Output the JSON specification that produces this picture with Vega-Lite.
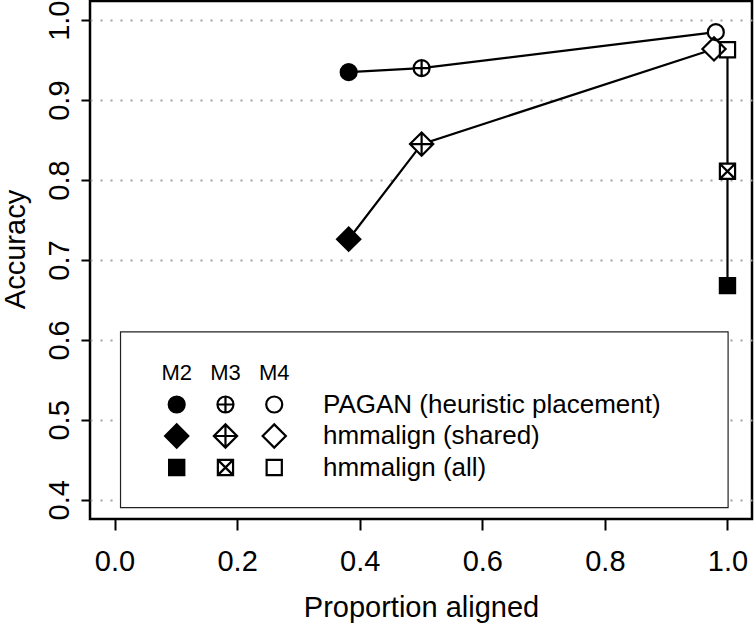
{
  "$schema": "https://vega.github.io/schema/vega-lite/v6.json",
  "width": 662,
  "height": 518,
  "autosize": "none",
  "padding": {"left": 90, "top": 1, "right": 2, "bottom": 105},
  "background": "white",
  "config": {
    "font": "Liberation Sans",
    "view": {"stroke": "black", "strokeWidth": 2.5},
    "axis": {
      "labelFont": "Liberation Sans", "labelFontSize": 29, "labelColor": "black",
      "titleFont": "Liberation Sans", "titleFontSize": 29, "titleFontWeight": "normal", "titleColor": "black",
      "tickColor": "black", "tickWidth": 2, "domain": false, "labelFlush": false, "labelOverlap": false
    }
  },
  "datasets": {
    "points": [
      {"method": "PAGAN (heuristic placement)", "model": "M2", "aligned": 0.382, "accuracy": 0.935},
      {"method": "PAGAN (heuristic placement)", "model": "M3", "aligned": 0.501, "accuracy": 0.940},
      {"method": "PAGAN (heuristic placement)", "model": "M4", "aligned": 0.981, "accuracy": 0.985},
      {"method": "hmmalign (shared)", "model": "M2", "aligned": 0.382, "accuracy": 0.726},
      {"method": "hmmalign (shared)", "model": "M3", "aligned": 0.501, "accuracy": 0.845},
      {"method": "hmmalign (shared)", "model": "M4", "aligned": 0.978, "accuracy": 0.964},
      {"method": "hmmalign (all)", "model": "M2", "aligned": 1.0, "accuracy": 0.668},
      {"method": "hmmalign (all)", "model": "M3", "aligned": 1.0, "accuracy": 0.811},
      {"method": "hmmalign (all)", "model": "M4", "aligned": 1.0, "accuracy": 0.963}
    ],
    "box": [
      {"x0": 0.0098, "x1": 1.001, "y0": 0.3903, "y1": 0.6102}
    ],
    "headers": [
      {"col": "M2", "row": "header"},
      {"col": "M3", "row": "header"},
      {"col": "M4", "row": "header"}
    ],
    "labels": [
      {"col": "label", "row": "PAGAN (heuristic placement)"},
      {"col": "label", "row": "hmmalign (shared)"},
      {"col": "label", "row": "hmmalign (all)"}
    ]
  },
  "resolve": {"scale": {"x": "independent", "y": "independent"}},
  "layer": [
    {
      "layer": [
        {
          "data": {"name": "points"},
          "mark": {"type": "line", "stroke": "black", "strokeWidth": 2.2},
          "encoding": {
            "x": {
              "field": "aligned", "type": "quantitative", "title": "Proportion aligned",
              "scale": {"domain": [-0.04, 1.04], "nice": false, "zero": false},
              "axis": {
                "title": "Proportion aligned", "values": [0, 0.2, 0.4, 0.6, 0.8, 1.0], "format": ".1f",
                "tickSize": 11, "labelPadding": 40, "labelBaseline": "alphabetic", "labelAlign": "center",
                "titleBaseline": "alphabetic", "titleY": 97, "grid": false
              }
            },
            "y": {
              "field": "accuracy", "type": "quantitative", "title": "Accuracy",
              "scale": {"domain": [0.376, 1.024], "nice": false, "zero": false},
              "axis": {
                "title": "Accuracy", "values": [0.4, 0.5, 0.6, 0.7, 0.8, 0.9, 1.0], "format": ".1f",
                "tickSize": 9, "labelPadding": 13, "labelAngle": -90, "labelAlign": "center", "labelBaseline": "alphabetic",
                "titleAngle": 270, "titleAlign": "center", "titleBaseline": "alphabetic", "titleX": -66, "titleY": 248,
                "grid": true, "gridDash": [2, 8], "gridColor": "#a0a0a0", "gridWidth": 2
              }
            },
            "detail": {"field": "method"},
            "order": {"field": "model"}
          }
        },
        {
          "data": {"name": "points"},
          "transform": [{"calculate": "datum.method + '|' + datum.model", "as": "key"}],
          "mark": {"type": "point", "filled": true, "fill": "white", "strokeWidth": 0, "opacity": 1},
          "encoding": {
            "x": {"field": "aligned", "type": "quantitative", "title": "Proportion aligned"},
            "y": {"field": "accuracy", "type": "quantitative", "title": "Accuracy"},
            "shape": {"field": "key", "type": "nominal", "legend": null, "scale": {
              "domain": ["PAGAN (heuristic placement)|M2", "PAGAN (heuristic placement)|M3", "PAGAN (heuristic placement)|M4", "hmmalign (shared)|M2", "hmmalign (shared)|M3", "hmmalign (shared)|M4", "hmmalign (all)|M2", "hmmalign (all)|M3", "hmmalign (all)|M4"],
              "range": ["circle", "M-1,0A1,1,0,1,1,1,0A1,1,0,1,1,-1,0ZM-1,0L1,0M0,-1L0,1", "circle", "M0,-1.45L1.45,0L0,1.45L-1.45,0Z", "M0,-1.45L1.45,0L0,1.45L-1.45,0ZM-1.45,0L1.45,0M0,-1.45L0,1.45", "M0,-1.45L1.45,0L0,1.45L-1.45,0Z", "M-0.95,-0.95L0.95,-0.95L0.95,0.95L-0.95,0.95Z", "M-0.95,-0.95L0.95,-0.95L0.95,0.95L-0.95,0.95ZM-0.95,-0.95L0.95,0.95M0.95,-0.95L-0.95,0.95", "M-0.95,-0.95L0.95,-0.95L0.95,0.95L-0.95,0.95Z"]
            }},
            "size": {"value": 256}
          }
        },
        {
          "data": {"name": "points"},
          "transform": [{"calculate": "datum.method + '|' + datum.model", "as": "key"}],
          "mark": {"type": "point", "filled": true, "stroke": "black", "strokeWidth": 2.2, "opacity": 1},
          "encoding": {
            "x": {"field": "aligned", "type": "quantitative", "title": "Proportion aligned"},
            "y": {"field": "accuracy", "type": "quantitative", "title": "Accuracy"},
            "shape": {"field": "key", "type": "nominal", "legend": null},
            "fill": {"field": "model", "type": "nominal", "legend": null, "scale": {"domain": ["M2", "M3", "M4"], "range": ["black", "transparent", "transparent"]}},
            "size": {"value": 256}
          }
        },
        {
          "data": {"name": "box"},
          "mark": {"type": "rect", "fill": "white", "stroke": "#222222", "strokeWidth": 1.2},
          "encoding": {
            "x": {"field": "x0", "type": "quantitative", "title": "Proportion aligned"},
            "x2": {"field": "x1"},
            "y": {"field": "y0", "type": "quantitative", "title": "Accuracy"},
            "y2": {"field": "y1"}
          }
        }
      ]
    },
    {
      "layer": [
        {
          "data": {"name": "points"},
          "transform": [{"calculate": "datum.method + '|' + datum.model", "as": "key"}],
          "mark": {"type": "point", "filled": true, "stroke": "black", "strokeWidth": 2.2, "opacity": 1},
          "encoding": {
            "x": {"field": "model", "type": "nominal", "axis": null, "scale": {"type": "point", "domain": ["M2", "M3", "M4", "label"], "range": [86.7, 233], "padding": 0}},
            "y": {"field": "method", "type": "nominal", "axis": null, "scale": {"type": "point", "domain": ["header", "PAGAN (heuristic placement)", "hmmalign (shared)", "hmmalign (all)"], "range": [372, 466.5], "padding": 0}},
            "shape": {"field": "key", "type": "nominal", "legend": null},
            "fill": {"field": "model", "type": "nominal", "legend": null},
            "size": {"value": 256}
          }
        },
        {
          "data": {"name": "headers"},
          "mark": {"type": "text", "font": "Liberation Sans", "fontSize": 22, "color": "black", "align": "center", "baseline": "middle"},
          "encoding": {
            "x": {"field": "col", "type": "nominal", "axis": null},
            "y": {"field": "row", "type": "nominal", "axis": null},
            "text": {"field": "col"}
          }
        },
        {
          "data": {"name": "labels"},
          "mark": {"type": "text", "font": "Liberation Sans", "fontSize": 26, "color": "black", "align": "left", "baseline": "middle"},
          "encoding": {
            "x": {"field": "col", "type": "nominal", "axis": null},
            "y": {"field": "row", "type": "nominal", "axis": null},
            "text": {"field": "row"}
          }
        }
      ]
    }
  ]
}
